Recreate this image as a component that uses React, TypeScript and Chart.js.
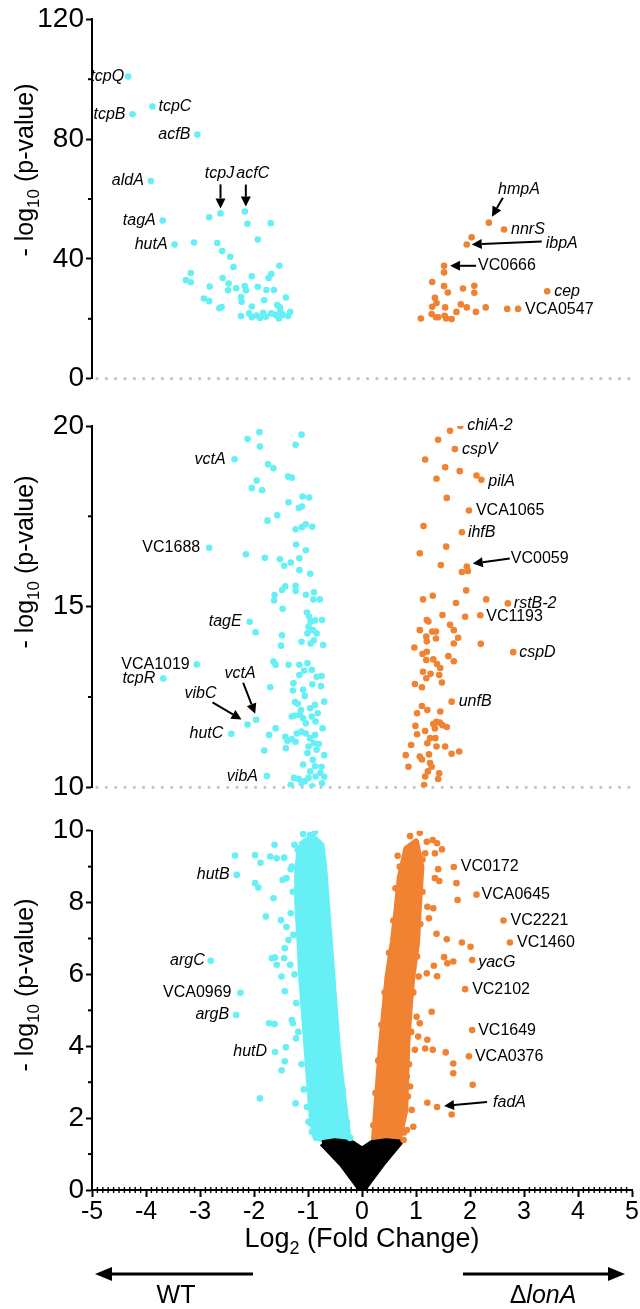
import React, { useEffect, useRef } from 'react';
import { Chart, registerables } from 'chart.js';
Chart.register(...registerables);

const FF = "'Liberation Sans', Arial, Helvetica, sans-serif";
const CYAN = '#66F0F5';
const ORANGE = '#F08232';
const GRAY = '#c4c4c4';

// ---------- tick values ----------
const xTicks = [-5, -4, -3, -2, -1, 0, 1, 2, 3, 4, 5];
const topTicks = [0, 40, 80, 120];
const topMinor = [20, 60, 100];
const midTicks = [10, 15, 20];
const midMinor = [12.5, 17.5];
const lowTicks = [0, 2, 4, 6, 8, 10];
const lowMinor = [1, 3, 5, 7, 9];

// ---------- top panel (-log10 p > 20) ----------
const topDown = [
  [-4.33, 100.9], [-4.25, 88.3], [-3.88, 90.9], [-3.05, 81.5], [-3.91, 66.0], [-3.69, 52.8], [-3.47, 44.8], [-2.62, 55.2], [-2.17, 55.8],
  [-2.83, 53.9], [-2.12, 51.7], [-1.69, 51.9], [-3.11, 45.5], [-2.68, 45.3], [-1.93, 46.5], [-2.59, 42.6], [-2.44, 40.7], [-2.38, 37.3], [-1.53, 37.7],
  [-3.17, 35.3], [-3.26, 32.9], [-3.17, 32.2], [-2.58, 33.6], [-2.47, 31.8], [-2.82, 30.8], [-2.33, 30.2], [-2.48, 29.5], [-2.04, 34.2], [-1.73, 33.6], [-1.68, 34.9],
  [-2.17, 30.9], [-2.15, 29.5], [-1.93, 30.7], [-1.77, 29.6], [-1.63, 29.6], [-2.93, 26.8], [-2.83, 25.9], [-2.24, 27.3], [-2.23, 25.7], [-1.81, 26.2], [-1.41, 27.1],
  [-2.60, 23.9], [-2.64, 23.5], [-2.04, 24.1], [-1.57, 24.6], [-1.52, 23.8], [-2.24, 20.9], [-2.09, 21.8], [-2.04, 20.5], [-1.95, 21.1], [-1.89, 20.3], [-1.83, 22.0],
  [-1.78, 20.7], [-1.68, 21.8], [-1.60, 21.3], [-1.54, 20.1], [-1.47, 21.3], [-1.37, 20.9], [-1.33, 22.3], [-1.51, 22.3],
];
const topUp = [
  [2.35, 52.1], [2.63, 49.8], [2.03, 47.2], [1.94, 44.8], [1.52, 37.7], [1.52, 35.5], [1.30, 32.3], [1.52, 30.9], [1.59, 28.8], [1.87, 30.1], [2.08, 31.0], [2.08, 28.7],
  [3.43, 29.2], [1.35, 27.0], [1.38, 25.3], [1.30, 24.0], [1.54, 23.8], [1.83, 24.8], [1.94, 23.8], [2.29, 23.8], [2.69, 23.3], [2.89, 23.3], [1.75, 22.3], [2.11, 22.3],
  [1.29, 21.6], [1.09, 20.1], [1.37, 20.5], [1.41, 20.5], [1.56, 20.1], [1.66, 19.9], [1.53, 21.0],
];

// ---------- middle panel (10 - 20) ----------
const midDown = [
  [-2.36, 19.08], [-2.83, 16.63], [-2.08, 14.58], [-1.97, 14.29], [-3.06, 13.40], [-3.68, 13.01], [-2.12, 11.74], [-1.96, 11.87], [-2.42, 11.48], [-1.76, 10.31],
  [-2.12, 19.64], [-1.90, 19.83], [-1.89, 19.43], [-1.23, 19.48], [-1.12, 19.76], [-1.74, 18.94], [-1.64, 18.83], [-1.37, 18.60], [-1.30, 18.57], [-1.95, 18.49],
  [-2.04, 18.28], [-1.85, 18.22], [-1.10, 18.05], [-0.98, 18.02], [-1.36, 17.89], [-1.17, 17.73], [-1.11, 17.77], [-1.57, 17.53], [-1.75, 17.38], [-1.23, 17.14],
  [-1.11, 17.20], [-1.04, 17.28], [-0.92, 17.21], [-1.22, 16.72], [-1.04, 16.56], [-2.15, 16.45], [-1.80, 16.35], [-1.52, 16.31], [-1.44, 16.13], [-1.32, 16.22],
  [-1.16, 16.34], [-1.16, 16.01], [-0.96, 15.91], [-1.42, 15.56], [-1.48, 15.46], [-1.23, 15.58], [-1.23, 15.43], [-1.04, 15.33], [-0.89, 15.40], [-1.62, 15.32],
  [-1.63, 15.17], [-0.90, 15.20], [-1.47, 14.94], [-1.02, 14.84], [-0.98, 14.72], [-0.95, 14.58], [-0.99, 14.44], [-0.91, 14.35], [-0.87, 14.62], [-0.84, 14.26],
  [-1.01, 14.26], [-0.89, 14.07], [-1.12, 14.03], [-0.95, 13.98], [-1.48, 14.21], [-1.50, 13.92], [-1.64, 13.48], [-1.60, 13.39], [-1.36, 13.39], [-1.16, 13.39],
  [-1.01, 13.43], [-0.93, 13.25], [-1.07, 13.23], [-1.16, 13.11], [-0.84, 13.06], [-1.70, 12.77], [-1.27, 12.88], [-1.28, 12.68], [-1.09, 12.70], [-0.92, 12.85],
  [-1.06, 12.53], [-1.24, 12.36], [-1.19, 12.31], [-1.13, 12.14], [-0.96, 12.19], [-0.87, 12.28], [-0.82, 12.05], [-1.30, 11.96], [-1.25, 11.98], [-1.15, 12.01],
  [-1.09, 11.91], [-1.04, 11.77], [-0.93, 11.96], [-0.86, 11.82], [-1.60, 11.63], [-1.72, 11.45], [-1.42, 11.40], [-1.38, 11.29], [-1.30, 11.33], [-1.41, 11.08],
  [-1.23, 11.26], [-1.21, 11.49], [-1.12, 11.54], [-1.04, 11.49], [-0.96, 11.36], [-0.87, 11.45], [-0.99, 11.13], [-0.89, 11.22], [-0.84, 11.04], [-1.81, 11.02],
  [-1.01, 10.95], [-0.91, 10.76], [-0.87, 10.58], [-1.09, 10.63], [-0.96, 10.44], [-1.26, 10.26], [-1.17, 10.23], [-1.12, 10.12], [-1.06, 10.17], [-0.99, 10.26],
  [-0.92, 10.03], [-0.86, 10.30], [-1.32, 10.06], [-0.74, 14.63], [-0.72, 13.94], [-0.75, 13.08], [-0.70, 12.37], [-0.73, 11.63], [-0.70, 10.89], [-0.75, 10.57],
  [-0.70, 10.29], [-0.74, 10.11], [-0.78, 15.20], [-0.76, 12.80], [-0.80, 11.20], [-0.77, 10.40],
];
const midUp = [
  [1.82, 20.0], [1.63, 19.87], [1.41, 19.62], [1.72, 19.36], [1.17, 19.07], [1.54, 18.86], [1.81, 18.75], [1.38, 18.54], [2.12, 18.63], [2.21, 18.51],
  [1.57, 18.01], [1.98, 17.66], [1.14, 17.23], [1.85, 17.06], [1.56, 16.66], [1.07, 16.48], [1.46, 16.15], [1.94, 16.11], [1.96, 15.99], [1.85, 15.96],
  [1.93, 15.45], [1.13, 15.20], [1.31, 15.30], [1.74, 15.10], [2.30, 15.20], [2.70, 15.09], [2.19, 14.76], [1.91, 14.72], [1.49, 14.77], [1.20, 14.63],
  [1.23, 14.59], [1.07, 14.35], [1.30, 14.31], [1.37, 14.31], [1.63, 14.50], [1.70, 14.35], [1.19, 14.17], [1.37, 14.12], [1.78, 14.14], [1.70, 13.98],
  [2.20, 13.97], [2.80, 13.74], [0.97, 13.87], [1.20, 14.04], [1.12, 13.69], [1.20, 13.75], [1.19, 13.52], [1.32, 13.54], [1.39, 13.41], [1.60, 13.63],
  [1.70, 13.49], [1.13, 13.20], [1.27, 13.14], [1.43, 13.11], [1.45, 13.30], [1.19, 13.02], [0.98, 12.86], [1.11, 12.77], [1.48, 12.90], [1.66, 12.37],
  [1.11, 12.25], [1.21, 12.14], [1.02, 12.05], [1.45, 12.10], [0.99, 11.70], [1.17, 11.56], [1.02, 11.47], [1.32, 11.75], [1.38, 11.81], [1.44, 11.79],
  [1.49, 11.72], [1.35, 11.63], [1.57, 11.67], [1.26, 11.36], [1.36, 11.36], [1.21, 11.22], [1.38, 11.13], [1.54, 11.13], [0.91, 11.17], [0.81, 10.89],
  [1.07, 10.85], [1.11, 10.77], [1.24, 10.91], [1.66, 10.93], [1.80, 10.99], [0.86, 10.57], [1.26, 10.67], [1.29, 10.57], [1.22, 10.44], [1.17, 10.30],
  [1.43, 10.39], [1.41, 10.23], [1.15, 10.06],
];

// ---------- bottom panel (0 - 10) ----------
const lowDown = [
  [-2.32, 8.77], [-2.80, 6.38], [-2.25, 5.49], [-2.33, 4.87], [-1.61, 3.84],
  [-2.35, 9.31], [-1.98, 9.32], [-1.88, 9.11], [-1.70, 9.28], [-1.62, 9.61], [-1.58, 9.23], [-1.44, 9.25], [-1.25, 9.61], [-1.19, 9.46],
  [-1.98, 8.54], [-1.92, 8.42], [-1.64, 8.12], [-1.78, 7.61], [-1.47, 8.63], [-1.40, 8.68], [-1.32, 8.93], [-1.50, 7.51], [-1.40, 7.32], [-1.36, 6.96], [-1.43, 6.73],
  [-1.44, 6.45], [-1.67, 6.45], [-1.58, 6.27], [-1.61, 6.47], [-1.49, 5.94], [-1.43, 5.53], [-1.33, 6.27], [-1.72, 4.64], [-1.62, 4.62], [-1.30, 4.73], [-1.28, 4.64],
  [-1.22, 4.22], [-1.41, 3.97], [-1.43, 3.58], [-1.49, 3.33], [-1.23, 2.41], [-1.89, 2.55], [-0.93, 1.62], [-0.95, 1.85], [-1.02, 2.31], [-0.90, 2.08],
  [-1.09, 9.91], [-0.96, 9.88], [-0.87, 9.97], [-0.93, 9.64],
  [-1.30, 9.0], [-1.28, 8.3], [-1.32, 7.7], [-1.27, 7.1], [-1.25, 6.0], [-1.22, 5.2], [-1.18, 4.4], [-1.12, 3.5], [-1.08, 2.8], [-0.99, 1.9],
  [-0.80, 9.4], [-0.70, 8.5], [-0.66, 7.6], [-0.60, 6.6], [-0.55, 5.6], [-0.49, 4.6], [-0.44, 3.8], [-0.36, 2.8], [-0.28, 1.9], [-0.22, 1.45],
];
const lowUp = [
  [1.70, 8.99], [2.12, 8.22], [2.62, 7.50], [2.74, 6.89], [2.04, 6.40], [1.91, 5.59], [2.04, 4.45], [1.98, 3.72], [1.39, 2.31],
  [0.89, 9.85], [1.07, 9.94], [1.20, 9.69], [1.31, 9.74], [1.39, 9.65], [1.48, 9.48], [1.35, 9.37], [1.17, 9.37], [0.98, 9.46], [0.83, 9.42], [0.70, 9.00],
  [1.41, 8.93], [1.35, 8.68], [1.43, 8.60], [1.75, 8.54], [1.77, 8.07], [1.21, 7.88], [1.32, 7.84], [1.24, 7.56], [1.38, 7.13], [1.57, 6.98], [1.85, 6.89],
  [2.01, 6.77], [1.52, 6.48], [1.58, 6.31], [1.69, 6.36], [1.33, 6.24], [1.20, 6.03], [1.39, 5.95], [1.05, 5.94], [1.29, 4.96], [1.04, 4.27], [1.21, 4.18],
  [1.17, 3.94], [1.31, 3.90], [1.55, 3.83], [1.69, 3.52], [1.69, 3.25], [2.05, 2.93], [1.21, 2.43], [1.66, 2.10], [1.07, 4.64], [1.01, 4.82], [0.89, 2.88],
  [0.92, 2.23], [0.83, 1.67], [0.77, 1.39], [0.95, 1.76], [0.98, 3.90], [0.83, 3.15],
  [0.66, 9.3], [0.62, 8.4], [0.58, 7.5], [0.50, 6.6], [0.42, 5.5], [0.36, 4.6], [0.30, 3.6], [0.25, 2.7], [0.21, 1.8],
  [1.12, 9.2], [1.12, 8.3], [1.08, 7.4], [1.02, 6.5], [0.95, 5.5], [0.91, 4.4], [0.87, 3.5], [0.85, 2.6], [0.78, 1.6],
];
// outlines of the densely packed clouds
const lowDownCore = [
  [-1.15, 9.6], [-1.19, 9.0], [-1.20, 8.0], [-1.16, 7.0], [-1.13, 6.0], [-1.08, 5.0], [-1.03, 4.0], [-0.98, 3.0], [-0.93, 2.0], [-0.86, 1.45],
  [-0.24, 1.35], [-0.30, 2.0], [-0.38, 3.0], [-0.45, 4.0], [-0.50, 5.0], [-0.55, 6.0], [-0.60, 7.0], [-0.65, 8.0], [-0.70, 9.0], [-0.75, 9.6], [-0.92, 9.85],
];
const lowUpCore = [
  [0.22, 1.35], [0.26, 2.2], [0.35, 4.0], [0.47, 5.9], [0.57, 6.9], [0.64, 7.8], [0.70, 8.7], [0.82, 9.5], [1.00, 9.7], [1.10, 9.0],
  [1.05, 7.8], [1.02, 6.9], [0.93, 5.9], [0.88, 5.0], [0.84, 4.1], [0.82, 3.2], [0.80, 2.2], [0.68, 1.38],
];
const lowNsCore = [
  [-0.74, 1.30], [-0.50, 1.36], [-0.18, 1.30], [0.0, 1.12], [0.18, 1.30], [0.45, 1.36], [0.70, 1.32], [0.37, 0.72], [0.03, 0.03], [-0.03, 0.03], [-0.37, 0.72],
];

// ---------- annotations ----------
type Note = { t: string; x: number; y: number; dx?: number; dy?: number; a: CanvasTextAlign; i?: boolean; arrow?: number[] };
const topNotes: Note[] = [
  { t: 'tcpQ', x: -4.33, y: 100.9, dx: -4, a: 'right', i: true },
  { t: 'tcpB', x: -4.25, y: 88.3, dx: -7, a: 'right', i: true },
  { t: 'tcpC', x: -3.88, y: 90.9, dx: 6, a: 'left', i: true },
  { t: 'acfB', x: -3.05, y: 81.5, dx: -7, a: 'right', i: true },
  { t: 'aldA', x: -3.91, y: 66.0, dx: -7, a: 'right', i: true },
  { t: 'tagA', x: -3.69, y: 52.8, dx: -7, a: 'right', i: true },
  { t: 'hutA', x: -3.47, y: 44.8, dx: -7, a: 'right', i: true },
  { t: 'tcpJ', x: -2.62, y: 55.2, dx: -1, dy: -40, a: 'center', i: true, arrow: [0, -29, 0, -5] },
  { t: 'acfC', x: -2.17, y: 55.8, dx: 8, dy: -38, a: 'center', i: true, arrow: [1, -27, 1, -5] },
  { t: 'hmpA', x: 2.35, y: 52.1, dx: 30, dy: -33, a: 'center', i: true, arrow: [14, -25, 3, -6] },
  { t: 'nnrS', x: 2.63, y: 49.8, dx: 7, a: 'left', i: true },
  { t: 'ibpA', x: 1.94, y: 44.8, dx: 79, dy: -1, a: 'left', i: true, arrow: [75, -3, 5, 0] },
  { t: 'VC0666', x: 1.52, y: 37.7, dx: 34, a: 'left', arrow: [32, 0, 6, 0] },
  { t: 'cep', x: 3.43, y: 29.2, dx: 7, a: 'left', i: true },
  { t: 'VCA0547', x: 2.89, y: 23.3, dx: 7, dy: 1, a: 'left' },
];
const midNotes: Note[] = [
  { t: 'vctA', x: -2.36, y: 19.08, dx: -9, a: 'right', i: true },
  { t: 'VC1688', x: -2.83, y: 16.63, dx: -9, a: 'right' },
  { t: 'tagE', x: -2.08, y: 14.58, dx: -8, a: 'right', i: true },
  { t: 'VCA1019', x: -3.06, y: 13.40, dx: -7, a: 'right' },
  { t: 'tcpR', x: -3.68, y: 13.01, dx: -8, a: 'right', i: true },
  { t: 'vctA', x: -1.96, y: 11.87, dx: -16, dy: -46, a: 'center', i: true, arrow: [-13, -37, -1, -6] },
  { t: 'vibC', x: -2.12, y: 11.74, dx: -47, dy: -31, a: 'center', i: true, arrow: [-35, -22, -6, -5] },
  { t: 'hutC', x: -2.42, y: 11.48, dx: -8, a: 'right', i: true },
  { t: 'vibA', x: -1.76, y: 10.31, dx: -9, a: 'right', i: true },
  { t: 'chiA-2', x: 1.82, y: 20.0, dx: 7, a: 'left', i: true },
  { t: 'cspV', x: 1.72, y: 19.36, dx: 7, a: 'left', i: true },
  { t: 'pilA', x: 2.21, y: 18.51, dx: 7, dy: 2, a: 'left', i: true },
  { t: 'VCA1065', x: 1.98, y: 17.66, dx: 7, a: 'left' },
  { t: 'ihfB', x: 1.85, y: 17.06, dx: 6, a: 'left', i: true },
  { t: 'VC0059', x: 1.94, y: 16.11, dx: 44, dy: -8, a: 'left', arrow: [43, -8, 6, -3] },
  { t: 'rstB-2', x: 2.70, y: 15.09, dx: 6, a: 'left', i: true },
  { t: 'VC1193', x: 2.19, y: 14.76, dx: 6, dy: 1, a: 'left' },
  { t: 'cspD', x: 2.80, y: 13.74, dx: 6, a: 'left', i: true },
  { t: 'unfB', x: 1.66, y: 12.37, dx: 7, a: 'left', i: true },
];
const lowNotes: Note[] = [
  { t: 'hutB', x: -2.32, y: 8.77, dx: -7, a: 'right', i: true },
  { t: 'argC', x: -2.80, y: 6.38, dx: -6, a: 'right', i: true },
  { t: 'VCA0969', x: -2.25, y: 5.49, dx: -9, a: 'right' },
  { t: 'argB', x: -2.33, y: 4.87, dx: -7, a: 'right', i: true },
  { t: 'hutD', x: -1.61, y: 3.84, dx: -8, a: 'right', i: true },
  { t: 'VC0172', x: 1.70, y: 8.99, dx: 7, a: 'left' },
  { t: 'VCA0645', x: 2.12, y: 8.22, dx: 5, a: 'left' },
  { t: 'VC2221', x: 2.62, y: 7.50, dx: 7, a: 'left' },
  { t: 'VC1460', x: 2.74, y: 6.89, dx: 7, a: 'left' },
  { t: 'yacG', x: 2.04, y: 6.40, dx: 6, dy: 2, a: 'left', i: true },
  { t: 'VC2102', x: 1.91, y: 5.59, dx: 7, a: 'left' },
  { t: 'VC1649', x: 2.04, y: 4.45, dx: 6, a: 'left' },
  { t: 'VCA0376', x: 1.98, y: 3.72, dx: 6, a: 'left' },
  { t: 'fadA', x: 1.39, y: 2.31, dx: 56, dy: -4, a: 'left', i: true, arrow: [50, -5, 7, -1] },
];

// ---------- helpers ----------
const pts = (a: number[][]) => a.map(([x, y]) => ({ x, y }));
const ring = (a: number[][]) => pts([...a, a[0]]);

type Part = { t: string; sub?: boolean; it?: boolean };
function drawRich(ctx: CanvasRenderingContext2D, parts: Part[], cx: number, base: number, size: number) {
  const fontOf = (p: Part) => `${p.it ? 'italic ' : ''}${p.sub ? Math.round(size * 0.68) : size}px ${FF}`;
  let w = 0;
  const ws = parts.map((p) => { ctx.font = fontOf(p); const m = ctx.measureText(p.t).width; w += m; return m; });
  let x = cx - w / 2;
  ctx.textAlign = 'left';
  ctx.textBaseline = 'alphabetic';
  ctx.fillStyle = '#000';
  parts.forEach((p, i) => { ctx.font = fontOf(p); ctx.fillText(p.t, x, base + (p.sub ? size * 0.25 : 0)); x += ws[i]; });
}

function drawArrow(ctx: CanvasRenderingContext2D, x1: number, y1: number, x2: number, y2: number, lw: number, hl: number, hw: number) {
  const a = Math.atan2(y2 - y1, x2 - x1);
  const bx = x2 - hl * Math.cos(a), by = y2 - hl * Math.sin(a);
  ctx.strokeStyle = '#000';
  ctx.lineWidth = lw;
  ctx.lineCap = 'butt';
  ctx.setLineDash([]);
  ctx.beginPath(); ctx.moveTo(x1, y1); ctx.lineTo(bx, by); ctx.stroke();
  ctx.fillStyle = '#000';
  ctx.beginPath();
  ctx.moveTo(x2, y2);
  ctx.lineTo(bx + (hw / 2) * Math.sin(a), by - (hw / 2) * Math.cos(a));
  ctx.lineTo(bx - (hw / 2) * Math.sin(a), by + (hw / 2) * Math.cos(a));
  ctx.closePath(); ctx.fill();
}

type Panel = {
  height: number; padTop: number; padBottom: number; ymin: number; ymax: number;
  yTicks: number[]; yMinor: number[]; titleCY: number; dotted: boolean; showX: boolean;
  down: number[][]; up: number[][]; notes: Note[];
  cores?: { data: number[][]; color: string }[];
};

function makeConfig(p: Panel): any {
  const scatter = (data: number[][], color: string) => ({
    type: 'scatter', data: pts(data), backgroundColor: color, borderWidth: 0, pointRadius: 3.3, pointBorderWidth: 0, pointHoverRadius: 3.3,
  });
  const datasets: any[] = [scatter(p.down, CYAN), scatter(p.up, ORANGE)];
  (p.cores || []).forEach((c) => datasets.push({
    type: 'line', data: ring(c.data), borderColor: c.color, backgroundColor: c.color, borderWidth: 6,
    borderJoinStyle: 'round', fill: 'shape', pointRadius: 0, tension: 0,
  }));

  const decor = {
    id: 'decor',
    beforeDatasetsDraw(chart: any) {
      if (!p.dotted) return;
      const { ctx, chartArea } = chart;
      const y = chart.scales.y.getPixelForValue(p.ymin);
      ctx.save();
      ctx.strokeStyle = GRAY; ctx.lineWidth = 3.2; ctx.lineCap = 'round'; ctx.setLineDash([0, 9.33]);
      ctx.beginPath(); ctx.moveTo(chartArea.left + 5, y); ctx.lineTo(chartArea.right, y); ctx.stroke();
      ctx.restore();
    },
    afterDraw(chart: any) {
      const { ctx, chartArea } = chart;
      const xs = chart.scales.x, ys = chart.scales.y;
      ctx.save();
      ctx.strokeStyle = '#000'; ctx.lineWidth = 2;
      p.yMinor.forEach((v) => {
        const y = ys.getPixelForValue(v);
        ctx.beginPath(); ctx.moveTo(chartArea.left - 4, y); ctx.lineTo(chartArea.left, y); ctx.stroke();
      });
      if (p.showX) {
        ctx.lineWidth = 1.4;
        for (let k = -50; k <= 50; k++) {
          if (k % 10 === 0) continue;
          const x = xs.getPixelForValue(k / 10);
          ctx.beginPath(); ctx.moveTo(x, chartArea.bottom - 3); ctx.lineTo(x, chartArea.bottom + 3); ctx.stroke();
        }
      }
      // annotations
      p.notes.forEach((n) => {
        const px = xs.getPixelForValue(n.x), py = ys.getPixelForValue(n.y);
        ctx.font = `${n.i ? 'italic ' : ''}16px ${FF}`;
        ctx.fillStyle = '#000'; ctx.textAlign = n.a; ctx.textBaseline = 'middle';
        ctx.fillText(n.t, px + (n.dx || 0), py + (n.dy || 0));
        if (n.arrow) {
          const [ax1, ay1, ax2, ay2] = n.arrow;
          drawArrow(ctx, px + ax1, py + ay1, px + ax2, py + ay2, 2, 10, 10);
        }
      });
      // y title
      ctx.save();
      ctx.translate(33, p.titleCY);
      ctx.rotate(-Math.PI / 2);
      drawRich(ctx, [{ t: '- log' }, { t: '10', sub: true }, { t: ' (p-value)' }], 0, 0, 25);
      ctx.restore();
      if (p.showX) {
        drawRich(ctx, [{ t: 'Log' }, { t: '2', sub: true }, { t: ' (Fold Change)' }], 362, 437, 27);
        drawArrow(ctx, 253, 464, 95, 464, 3, 17, 14);
        drawArrow(ctx, 463, 464, 625, 464, 3, 17, 14);
        drawRich(ctx, [{ t: 'WT' }], 176, 493, 25);
        drawRich(ctx, [{ t: 'Δ' }, { t: 'lonA', it: true }], 543, 493, 25);
      }
      ctx.restore();
    },
  };

  return {
    type: 'scatter',
    data: { datasets },
    plugins: [decor],
    options: {
      responsive: false,
      animation: false,
      events: [],
      layout: { padding: { top: p.padTop, right: 8, bottom: p.padBottom, left: 0 } },
      plugins: { legend: { display: false }, tooltip: { enabled: false } },
      scales: {
        x: {
          type: 'linear', min: -5, max: 5, display: p.showX,
          afterBuildTicks: (s: any) => { s.ticks = xTicks.map((v) => ({ value: v })); },
          ticks: { font: { size: 25, family: FF }, color: '#000', padding: 0, maxRotation: 0, autoSkip: false },
          grid: { drawOnChartArea: false, drawTicks: true, tickLength: 7, tickWidth: 2, tickColor: '#000' },
          border: { display: true, color: '#000', width: 2 },
          afterFit: (s: any) => { s.height = p.showX ? p.height - 380 : 0; },
        },
        y: {
          type: 'linear', min: p.ymin, max: p.ymax,
          afterBuildTicks: (s: any) => { s.ticks = p.yTicks.map((v) => ({ value: v })); },
          ticks: { font: { size: 28, family: FF }, color: '#000', padding: 2 },
          grid: { drawOnChartArea: false, drawTicks: true, tickLength: 6, tickWidth: 2, tickColor: '#000' },
          border: { display: true, color: '#000', width: 2 },
          afterFit: (s: any) => { s.width = 92; },
        },
      },
    },
  };
}

const panels: { top: number; p: Panel }[] = [
  {
    top: 0,
    p: { height: 400, padTop: 19.3, padBottom: 21.3, ymin: 0, ymax: 120, yTicks: topTicks, yMinor: topMinor, titleCY: 170, dotted: true, showX: false, down: topDown, up: topUp, notes: topNotes },
  },
  {
    top: 400,
    p: { height: 410, padTop: 26, padBottom: 22.7, ymin: 10, ymax: 20, yTicks: midTicks, yMinor: midMinor, titleCY: 162, dotted: true, showX: false, down: midDown, up: midUp, notes: midNotes },
  },
  {
    top: 810,
    p: {
      height: 499, padTop: 20.7, padBottom: 0, ymin: 0, ymax: 10, yTicks: lowTicks, yMinor: lowMinor, titleCY: 175, dotted: false, showX: true,
      down: lowDown, up: lowUp, notes: lowNotes,
      cores: [{ data: lowNsCore, color: '#000' }, { data: lowDownCore, color: CYAN }, { data: lowUpCore, color: ORANGE }],
    },
  },
];

function PanelCanvas({ top, p }: { top: number; p: Panel }) {
  const ref = useRef<HTMLCanvasElement>(null);
  useEffect(() => {
    const chart = new Chart(ref.current as HTMLCanvasElement, makeConfig(p));
    return () => chart.destroy();
  }, []);
  return (
    <canvas ref={ref} width={640} height={p.height}
      style={{ position: 'absolute', left: 0, top, width: 640, height: p.height, display: 'block' }} />
  );
}

export default function App() {
  return (
    <div style={{ position: 'absolute', left: 0, top: 0, width: 640, height: 1309, background: '#fff', overflow: 'hidden' }}>
      {panels.map((pp, i) => <PanelCanvas key={i} top={pp.top} p={pp.p} />)}
    </div>
  );
}
